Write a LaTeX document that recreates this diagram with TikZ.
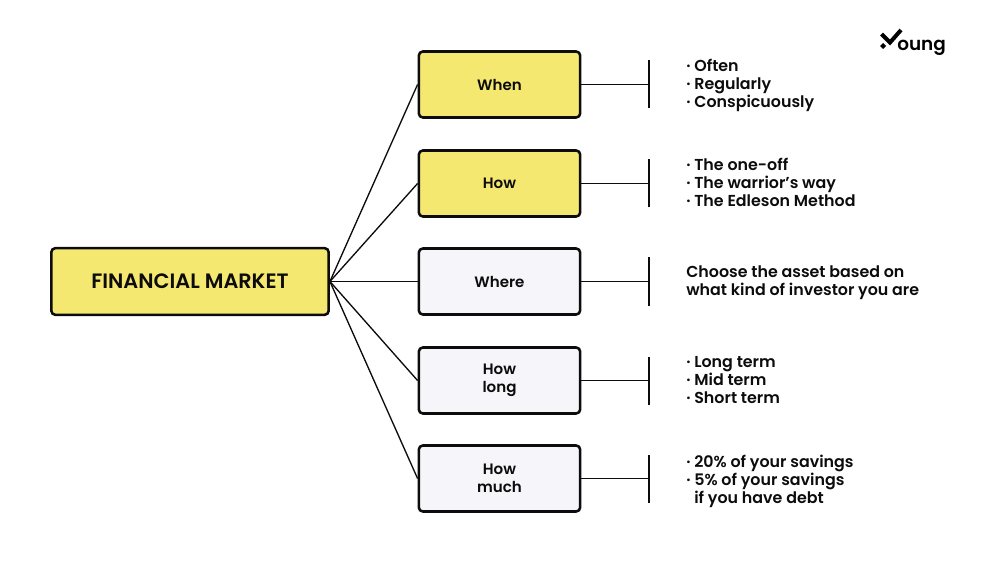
\documentclass[tikz,border=0pt]{standalone}
\usepackage{fontspec}
\setmainfont{Poppins}[BoldFont={Poppins SemiBold}]
\definecolor{yel}{RGB}{245, 232, 112}
\definecolor{pale}{RGB}{245, 245, 250}
\definecolor{ink}{RGB}{12, 12, 12}
\tikzset{
	box/.style={draw=ink, line width=1.9pt, rounded corners=3pt, minimum width=121pt, minimum height=49.5pt, inner sep=0pt, align=center, font=\fontsize{11.3}{13.5}\selectfont\bfseries, text=ink},
	wire/.style={draw=ink, line width=1pt},
	notes/.style={anchor=west, align=left, inner sep=0pt, font=\fontsize{11.9}{13.6}\selectfont\bfseries, text=ink},
}
\begin{document}
\begin{tikzpicture}[x=0.75pt,y=-0.75pt]
	\useasboundingbox (0,0) rectangle (1000,563);
	\node[box, fill=yel, minimum width=208pt, minimum height=50pt, font=\fontsize{15.6}{18}\selectfont\bfseries] (market) at (190,281.5) {FINANCIAL MARKET};
	\foreach \Name/\Y/\Col/\Label in {when/84.5/yel/When, how/183.5/yel/How, where/281.5/pale/Where, long/380.5/pale/{How\\long}, much/478.5/pale/{How\\much}}{
		\node[box, fill=\Col] (\Name) at (499.5,\Y) {\Label};
		\coordinate (\Name bar) at (649,\Y);
		\draw[wire] (market.east) -- (\Name.west); % branche
		\draw[wire] (\Name.east) -- (\Name bar);
		\draw[wire] ([yshift=-18pt]\Name bar) -- ([yshift=18pt]\Name bar);
	}
	\node[notes] (whennote) at (686,85.5) {· Often\\· Regularly\\· Conspicuously};
	\node[notes] (hownote) at (686,182.5) {· The one-off\\· The warrior’s way\\· The Edleson Method};
	\node[notes] (wherenote) at (686,283) {Choose the asset based on\\what kind of investor you are};
	\node[notes] (longnote) at (686,380) {· Long term\\· Mid term\\· Short term};
	\node[notes] (muchnote) at (686,481.5) {· 20\% of your savings\\· 5\% of your savings\\\phantom{· }if you have debt};
	% logo
	\node[anchor=west, inner sep=0pt, font=\fontsize{13.8}{16}\selectfont\bfseries, text=black] (logo) at (897,48) {oung};
	\draw[black, line width=3pt] (881.5,34) -- (890,42.5) -- (901,30);
	\fill[black] (883,43) -- (886,46) -- (883,49) -- (880,46) -- cycle;
\end{tikzpicture}
\end{document}
